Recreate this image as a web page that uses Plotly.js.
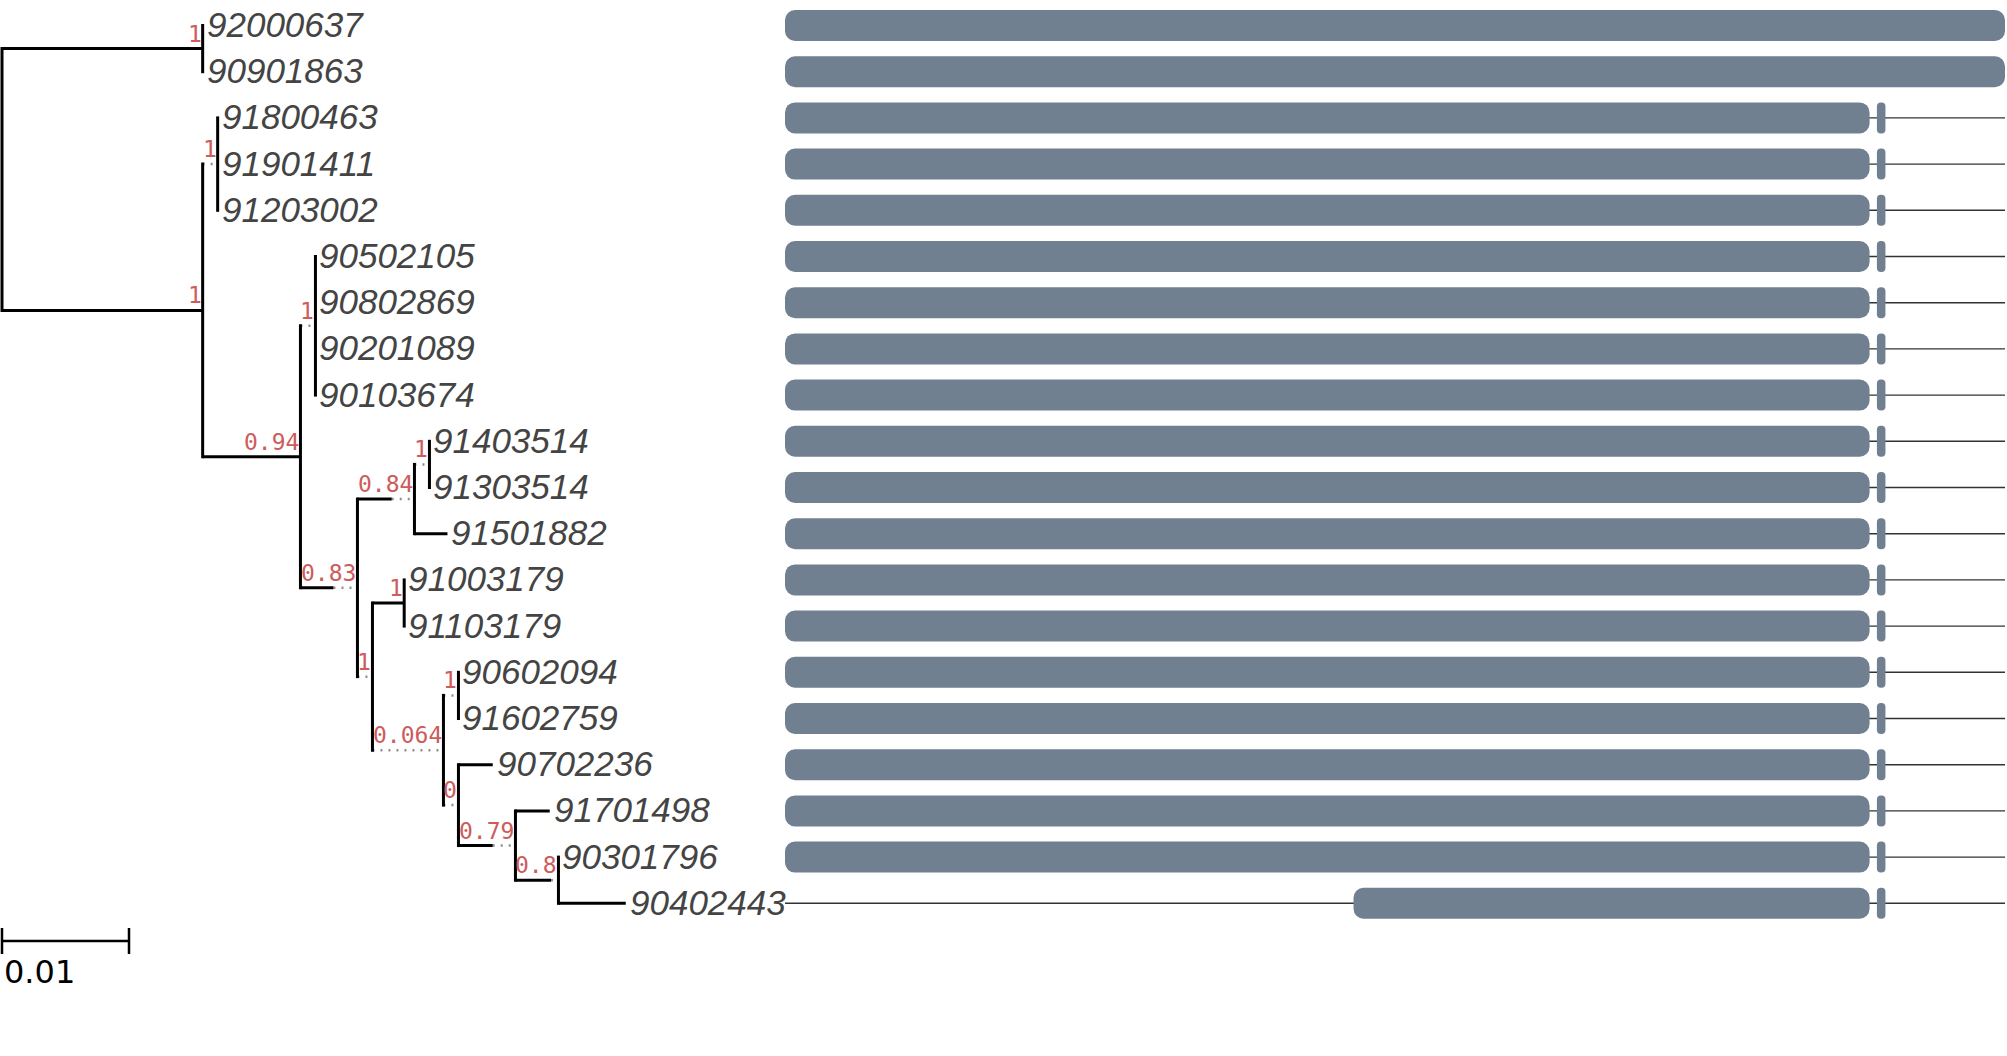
<!DOCTYPE html>
<html>
<head>
<meta charset="utf-8">
<script src="https://cdn.plot.ly/plotly-3.0.1.min.js"></script>
<style>
  html, body { margin: 0; padding: 0; background: #fff; }
  #graph { width: 2007px; height: 1056px; }
</style>
</head>
<body>
<div id="graph"></div>
<script>
// leaves, top to bottom
const tipNames = ["92000637", "90901863", "91800463", "91901411", "91203002",
  "90502105", "90802869", "90201089", "90103674", "91403514", "91303514",
  "91501882", "91003179", "91103179", "90602094", "91602759", "90702236",
  "91701498", "90301796", "90402443"];
const tipParents = ["A", "A", "B1", "B1", "B1", "C1", "C1", "C1", "C1", "F", "F",
  "E", "H", "H", "J", "J", "K", "L", "M", "M"];
const tipLengths = [0, 0, 0, 0, 0, 0, 0, 0, 0, 0, 0,
  0.0026, 0, 0, 0, 0, 0.0027, 0.0027, 0, 0.0053];

// inner nodes
const nodeIds = ["A", "B", "B1", "C", "C1", "D", "E", "F", "G", "H", "I", "J", "K", "L", "M"];
const nodeParents = ["root", "root", "B", "B", "C", "C", "D", "E", "D", "G", "G", "I", "I", "K", "L"];
const nodeLengths = [0.0158, 0.0158, 0, 0.0077, 0, 0.0026, 0.0027, 0, 0, 0.0025, 0, 0, 0, 0.0027, 0.0028];
const nodeSupport = ["1", "1", "1", "0.94", "1", "0.83", "0.84", "1", "1", "1", "0.064", "1", "0", "0.79", "0.8"];

const scaleBar = 0.01;

// alignment blocks (columns)
const alnLength = 1000;
const blockStarts = [0, 0, 0, 0, 0, 0, 0, 0, 0, 0, 0, 0, 0, 0, 0, 0, 0, 0, 0, 466];
const blockEnds = [1000, 1000, 889, 889, 889, 889, 889, 889, 889, 889, 889, 889,
  889, 889, 889, 889, 889, 889, 889, 889];
const smallStarts = [null, null, 895, 895, 895, 895, 895, 895, 895, 895, 895, 895,
  895, 895, 895, 895, 895, 895, 895, 895];
const smallEnds = [null, null, 902, 902, 902, 902, 902, 902, 902, 902, 902, 902,
  902, 902, 902, 902, 902, 902, 902, 902];

const W = 2007, H = 1056;
const PX_PER_UNIT = 12700;   // tree scale
const ROOT_PX = 2;
const ROW0_PX = 25.5, ROW_PX = 46.2;
const ALN_START_PX = 785, ALN_END_PX = 2005;
const SUP_CHAR_PX = 14;

function supWidth(s) {
  return (s.length * SUP_CHAR_PX + 1) / PX_PER_UNIT;
}

function xOf(id) {
  if (id === "root") return 0;
  const i = nodeIds.indexOf(id);
  if (i >= 0) return xOf(nodeParents[i]) + Math.max(nodeLengths[i], supWidth(nodeSupport[i]));
  const t = tipNames.indexOf(id);
  return xOf(tipParents[t]) + tipLengths[t];
}

function children(id) {
  const out = [];
  nodeIds.forEach((n, i) => { if (nodeParents[i] === id) out.push(n); });
  tipNames.forEach((n, i) => { if (tipParents[i] === id) out.push(n); });
  return out;
}

function yOf(id) {
  const t = tipNames.indexOf(id);
  if (t >= 0) return t;
  const ys = children(id).map(yOf);
  return (Math.min(...ys) + Math.max(...ys)) / 2;
}

const solidX = [], solidY = [], dotX = [], dotY = [];
const capY = 1.5 / ROW_PX;

// horizontal branches
function branch(id, parent, len) {
  const x0 = xOf(parent), x1 = xOf(id), y = yOf(id);
  const xs = x0 + len;
  if (len > 0) { solidX.push(x0, xs, null); solidY.push(y, y, null); }
  if (x1 - xs > 1e-9) { dotX.push(xs, x1, null); dotY.push(y, y, null); }
}
nodeIds.forEach((id, i) => branch(id, nodeParents[i], nodeLengths[i]));
tipNames.forEach((id, i) => branch(id, tipParents[i], tipLengths[i]));

// vertical connectors
["root"].concat(nodeIds).forEach(id => {
  const ys = children(id).map(yOf);
  const x = xOf(id);
  solidX.push(x, x, null);
  solidY.push(Math.min(...ys) - capY, Math.max(...ys) + capY, null);
});

const annotations = [];
tipNames.forEach((name, i) => {
  annotations.push({
    x: xOf(name), y: i, xref: "x", yref: "y",
    text: name, showarrow: false, xanchor: "left", yanchor: "middle",
    xshift: 2, yshift: 1,
    font: { family: "Liberation Sans, Arial, sans-serif", size: 35, color: "#444444", style: "italic" }
  });
});
nodeIds.forEach((id, i) => {
  annotations.push({
    x: xOf(id), y: yOf(id), xref: "x", yref: "y",
    text: nodeSupport[i], showarrow: false, xanchor: "right", yanchor: "middle",
    xshift: 1, yshift: 15,
    font: { family: "DejaVu Sans Mono, monospace", size: 23, color: "#cd5c5c" }
  });
});

// scale bar
const barRow = (941 - ROW0_PX) / ROW_PX;
const tickH = 13 / ROW_PX;
annotations.push({
  x: 0, y: barRow + 31 / ROW_PX, xref: "x", yref: "y",
  text: String(scaleBar), showarrow: false, xanchor: "left", yanchor: "middle",
  font: { family: "DejaVu Sans, sans-serif", size: 32, color: "#000" }
});

const rows = tipNames.map((_, i) => i);

const data = [
  {
    type: "scatter", mode: "lines", x: dotX, y: dotY, xaxis: "x", yaxis: "y",
    line: { color: "#8f8f8f", width: 2.5, dash: "2px,6px" }, hoverinfo: "skip"
  },
  {
    type: "scatter", mode: "lines", x: solidX, y: solidY, xaxis: "x", yaxis: "y",
    line: { color: "#000", width: 3 }, hoverinfo: "skip"
  },
  {
    type: "scatter", mode: "lines",
    x: [0, scaleBar, null, 0, 0, null, scaleBar, scaleBar],
    y: [barRow, barRow, null, barRow - tickH, barRow + tickH, null, barRow - tickH, barRow + tickH],
    xaxis: "x", yaxis: "y",
    line: { color: "#000", width: 2.5 }, hoverinfo: "skip"
  },
  {
    type: "bar", orientation: "h", y: rows, base: rows.map(() => 0),
    x: rows.map(() => alnLength), xaxis: "x2", yaxis: "y",
    width: 1.4 / ROW_PX, marker: { color: "#333333", line: { width: 0 } }, hoverinfo: "skip"
  },
  {
    type: "bar", orientation: "h", y: rows, base: blockStarts,
    x: blockEnds.map((e, i) => e - blockStarts[i]), xaxis: "x2", yaxis: "y",
    width: 31 / ROW_PX,
    marker: { color: "#708090", cornerradius: 10, line: { width: 0 } }, hoverinfo: "skip"
  },
  {
    type: "bar", orientation: "h", y: rows, base: smallStarts,
    x: smallEnds.map((e, i) => e === null ? null : e - smallStarts[i]), xaxis: "x2", yaxis: "y",
    width: 31 / ROW_PX,
    marker: { color: "#708090", cornerradius: 4, line: { width: 0 } }, hoverinfo: "skip"
  }
];

const alnPx = (ALN_END_PX - ALN_START_PX) / alnLength;

const layout = {
  width: W, height: H,
  margin: { l: 0, r: 0, t: 0, b: 0 },
  paper_bgcolor: "#fff", plot_bgcolor: "#fff",
  showlegend: false, hovermode: false, barmode: "overlay",
  xaxis: {
    range: [-ROOT_PX / PX_PER_UNIT, (W - ROOT_PX) / PX_PER_UNIT],
    visible: false, fixedrange: true
  },
  xaxis2: {
    overlaying: "x",
    range: [-ALN_START_PX / alnPx, (W - ALN_START_PX) / alnPx],
    visible: false, fixedrange: true
  },
  yaxis: {
    range: [(H - ROW0_PX) / ROW_PX, -ROW0_PX / ROW_PX],
    visible: false, fixedrange: true
  },
  annotations: annotations
};

Plotly.newPlot("graph", data, layout, { staticPlot: true, displayModeBar: false });
</script>
</body>
</html>
